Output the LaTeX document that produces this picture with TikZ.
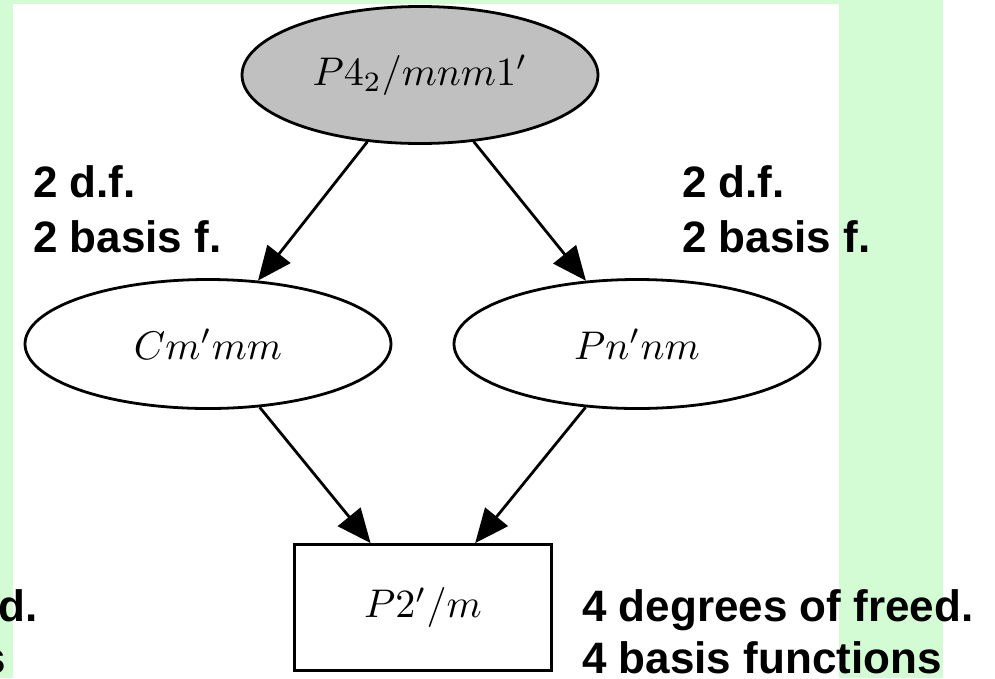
\documentclass[tikz,border=0pt]{standalone}
\usepackage{fontspec}
\usepackage{graphicx}
\newfontfamily\labfont{Liberation Sans}
\usetikzlibrary{shapes.geometric,arrows.meta}
\definecolor{panelgreen}{RGB}{212,252,212}
\definecolor{nodegray}{RGB}{192,192,192}
\newcommand{\grp}[1]{\scalebox{4}{$#1$}}
\tikzset{
  group/.style={ellipse, draw=black, line width=2.8pt, inner sep=0pt,
    minimum width=366pt, minimum height=129pt},
  maxgroup/.style={group, fill=nodegray, minimum width=356pt, minimum height=137pt},
  subgroup/.style={rectangle, draw=black, line width=2.8pt, inner sep=0pt,
    minimum width=257pt, minimum height=126pt},
  link/.style={draw=black, line width=2.8pt,
    -{Triangle[length=34pt,width=29pt]}},
  lab/.style={anchor=base west, inner sep=0pt, text=black,
    font=\labfont\bfseries\fontsize{44}{55}\selectfont}
}
\begin{document}
\begin{tikzpicture}[x=1pt,y=-1pt]
  \useasboundingbox (0,0) rectangle (995,678);
  \clip (0,0) rectangle (995,678);
  % page and slide panels
  \fill[white] (0,0) rectangle (995,678);
  \fill[panelgreen] (0,0) rectangle (943,678);
  \fill[white] (13,4) rectangle (839,678);

  % group-subgroup lattice
  \node[maxgroup] (top) at (420,75) {\grp{P4_2/mnm1^{\prime}}};
  \node[group] (cm) at (208,344) {\grp{Cm^{\prime}mm}};
  \node[group] (pn) at (637,344) {\grp{Pn^{\prime}nm}};
  \node[subgroup] (p2) at (423,607.5) {\grp{P2^{\prime}/m}};

  \draw[link] (top) -- (cm);
  \draw[link] (top) -- (pn);
  \draw[link] (cm) -- (p2);
  \draw[link] (pn) -- (p2);

  % annotations
  \node[lab] (dfL) at (33,197) {2 d.f.};
  \node[lab] (bfL) at (33,252) {2 basis f.};
  \node[lab] (dfR) at (682,197) {2 d.f.};
  \node[lab] (bfR) at (682,252) {2 basis f.};
  \node[lab] (dofR) at (582,621) {4 degrees of freed.};
  \node[lab] (bafR) at (582,673) {4 basis functions};
  \node[lab] (dofL) at (-354,621) {4 degrees of freed.};
  \node[lab] (bafL) at (-354,673) {4 basis functions};
\end{tikzpicture}
\end{document}
